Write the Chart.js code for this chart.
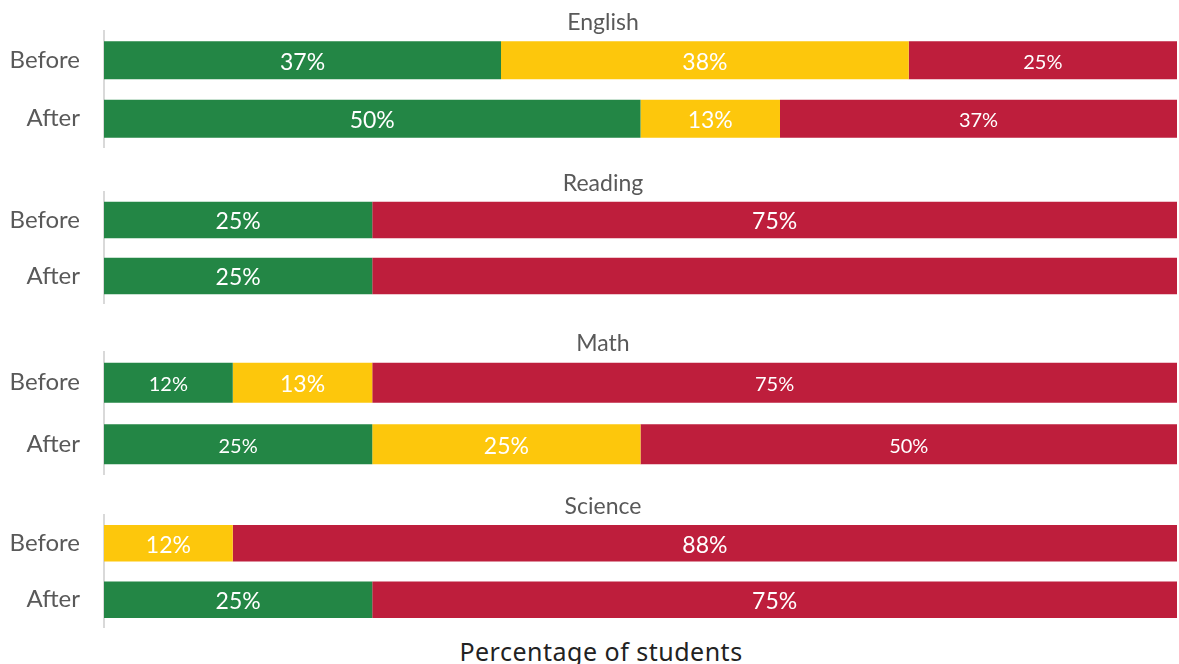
<!DOCTYPE html>
<html>
<head>
<meta charset="utf-8">
<title>Percentage of students before and after</title>
<script src="https://cdn.jsdelivr.net/npm/chart.js@4/dist/chart.umd.min.js"></script>
<style>
  html, body { margin: 0; padding: 0; background: #fff; }
  #wrap { position: relative; width: 1179px; height: 664px; overflow: hidden; }
  .panel { position: absolute; left: 0; }
  #xTitle {
    position: absolute; left: 0; width: 1202px; top: 634px;
    text-align: center; font: 25px "Noto Sans", sans-serif; color: #222;
    letter-spacing: 0.5px;
  }
</style>
</head>
<body>
<div id="wrap">
  <div id="xTitle">Percentage of students</div>
</div>
<script>
// --- datos ---
const subjects = ["English", "Reading", "Math", "Science"];
const periods = ["Before", "After"];
// orden por materia: [Before, After]
const metValues         = [[37, 50], [25, 25], [12, 25], [0, 25]];
const approachingValues = [[38, 13], [0, 0],   [13, 25], [12, 0]];
const notMetValues      = [[25, 37], [75, 75], [75, 50], [88, 75]];

// etiquetas que no se muestran en el original
const hiddenLabels = ["Reading|After|Not met"];
// etiquetas que salen con letra más chica
const smallLabels = ["English|Before|Not met", "English|After|Not met",
  "Math|Before|Met", "Math|Before|Not met", "Math|After|Met", "Math|After|Not met"];

const GREEN = "#238645", YELLOW = "#FDC70C", RED = "#BE1E3C", GREY = "#595959";
const FONT = "Lato, sans-serif";

// zona de barras de cada panel (top/bottom del área en px)
const panelAreas = [[31, 148], [192, 304], [352, 475], [515, 628]];
const TITLE_SPACE = 34;

const barLabels = {
  id: "barLabels",
  afterDatasetsDraw(chart){
    const { ctx } = chart;
    const subj = chart.options.plugins.panelTitle.text;
    ctx.save();
    ctx.fillStyle = "#fff";
    ctx.textAlign = "center";
    ctx.textBaseline = "middle";
    chart.data.datasets.forEach((ds, di) => {
      chart.getDatasetMeta(di).data.forEach((bar, i) => {
        const v = ds.data[i];
        if (!v) return;
        const key = `${subj}|${periods[i]}|${ds.label}`;
        if (hiddenLabels.includes(key)) return;
        ctx.font = `${smallLabels.includes(key) ? 20 : 23}px ${FONT}`;
        ctx.fillText(`${v}%`, (bar.x + bar.base) / 2, bar.y + 2);
      });
    });
    ctx.restore();
  }
};

const panelTitle = {
  id: "panelTitle",
  afterDraw(chart, args, opts){
    const { ctx, chartArea } = chart;
    ctx.save();
    ctx.fillStyle = GREY;
    ctx.font = `23px ${FONT}`;
    ctx.textAlign = "center";
    ctx.textBaseline = "middle";
    ctx.fillText(opts.text, 603, chartArea.top - 8);
    ctx.restore();
  }
};

const wrap = document.getElementById("wrap");

subjects.forEach((subj, s) => {
  const [aTop, aBot] = panelAreas[s];
  const top = aTop - TITLE_SPACE;
  const h = aBot - top;

  const div = document.createElement("div");
  div.className = "panel";
  div.style.top = top + "px";
  const canvas = document.createElement("canvas");
  canvas.width = 1179;
  canvas.height = h;
  div.appendChild(canvas);
  wrap.appendChild(div);

  new Chart(canvas.getContext("2d"), {
    type: "bar",
    data: {
      labels: periods,
      datasets: [
        { label: "Met", data: metValues[s], backgroundColor: GREEN },
        { label: "Approaching", data: approachingValues[s], backgroundColor: YELLOW },
        { label: "Not met", data: notMetValues[s], backgroundColor: RED }
      ]
    },
    options: {
      indexAxis: "y",
      responsive: false,
      animation: false,
      layout: { padding: { top: TITLE_SPACE, right: 2, bottom: 0, left: 0 } },
      datasets: { bar: { categoryPercentage: 0.65, barPercentage: 1, borderWidth: 0 } },
      scales: {
        x: { stacked: true, min: 0, max: 100, display: false },
        y: {
          stacked: true,
          grid: { display: true, drawOnChartArea: false, drawTicks: false },
          border: { display: true, color: "#d9d9d9", width: 2 },
          ticks: { color: GREY, font: { family: FONT, size: 24 }, padding: 24 },
          afterFit(scale){
            scale.width = 104;
            // sin esto el padding de ticks se come alto del área
            scale.paddingTop = 0;
            scale.paddingBottom = 0;
          }
        }
      },
      plugins: {
        legend: { display: false },
        tooltip: { enabled: false },
        panelTitle: { text: subj }
      }
    },
    plugins: [barLabels, panelTitle]
  });
});
</script>
</body>
</html>
